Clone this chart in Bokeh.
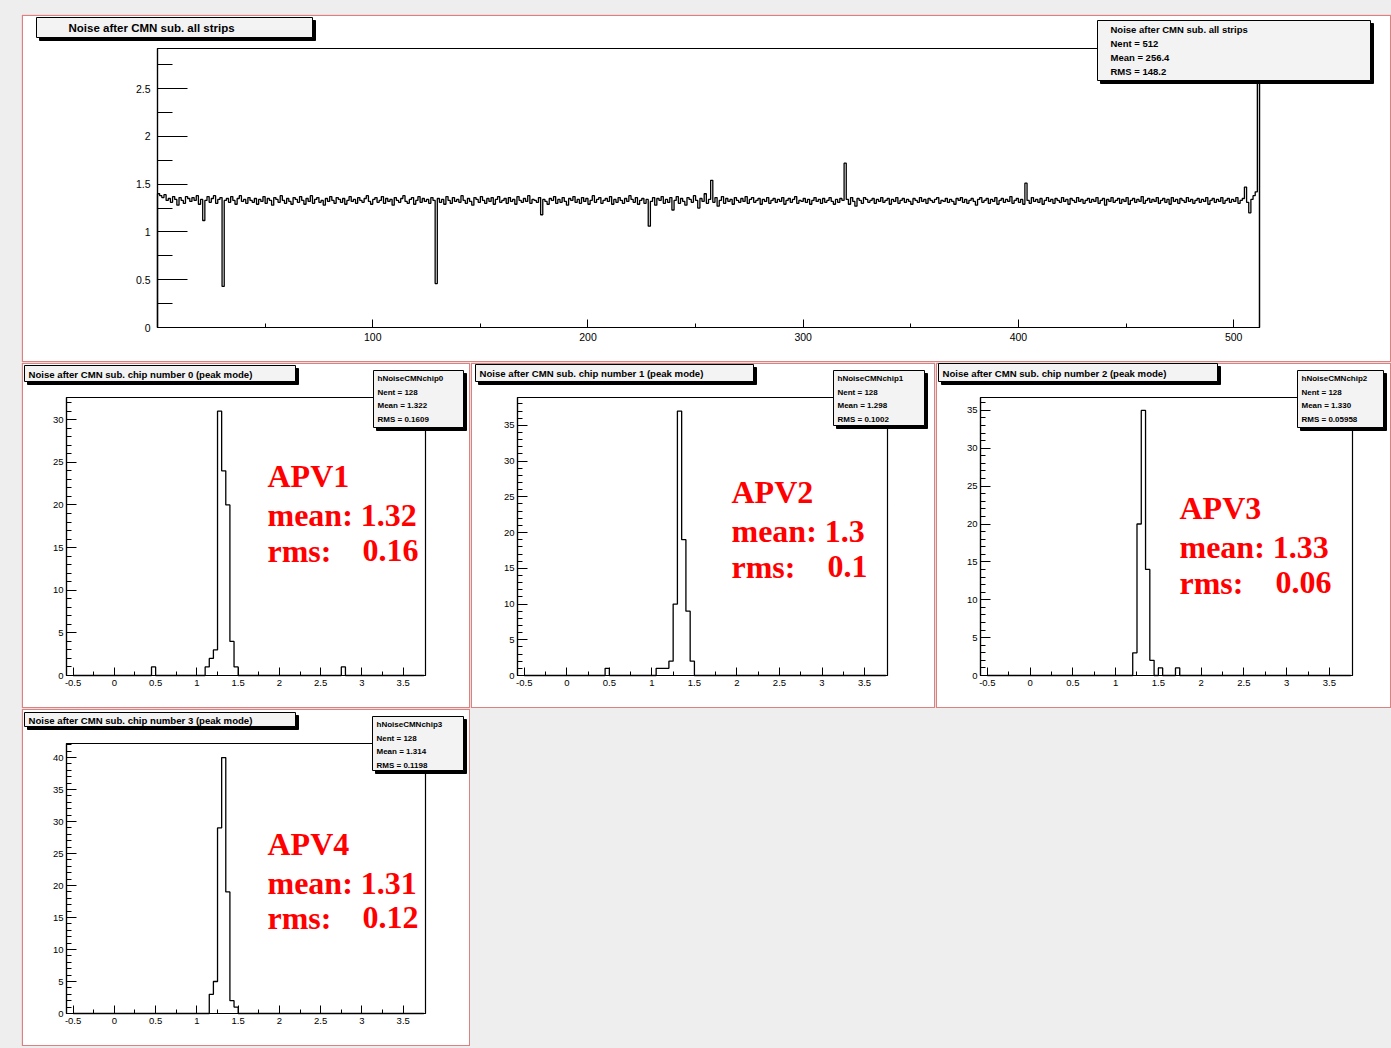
from bokeh.plotting import figure
from bokeh.layouts import column, row
from bokeh.models import Spacer, FixedTicker, BoxAnnotation, Label, Range1d
from bokeh.embed import file_html
from bokeh.resources import INLINE

# ---------------- data ----------------
strip_noise = [
    1.40, 1.38, 1.36, 1.39, 1.33, 1.35, 1.31, 1.37, 1.34, 1.28, 1.36, 1.33, 1.30, 1.37, 1.35, 1.32,
    1.36, 1.33, 1.38, 1.29, 1.34, 1.12, 1.33, 1.37, 1.31, 1.35, 1.38, 1.30, 1.34, 1.36, 0.43, 1.33,
    1.35, 1.31, 1.37, 1.33, 1.29, 1.35, 1.38, 1.32, 1.34, 1.30, 1.36, 1.33, 1.31, 1.35, 1.29, 1.34,
    1.32, 1.37, 1.30, 1.35, 1.33, 1.28, 1.36, 1.34, 1.31, 1.38, 1.33, 1.30, 1.35, 1.32, 1.29, 1.36,
    1.34, 1.31, 1.37, 1.33, 1.29, 1.35, 1.32, 1.38, 1.30, 1.34, 1.36, 1.31, 1.33, 1.28, 1.35, 1.32,
    1.37, 1.33, 1.30, 1.36, 1.34, 1.31, 1.35, 1.29, 1.33, 1.37, 1.32, 1.34, 1.30, 1.36, 1.33, 1.31,
    1.35, 1.38, 1.32, 1.29, 1.34, 1.36, 1.31, 1.33, 1.37, 1.30, 1.35, 1.32, 1.34, 1.28, 1.36, 1.33,
    1.31, 1.35, 1.38, 1.32, 1.30, 1.34, 1.36, 1.29, 1.33, 1.37, 1.31, 1.35, 1.32, 1.34, 1.30, 1.36,
    1.33, 0.46, 1.35, 1.31, 1.34, 1.29, 1.37, 1.33, 1.30, 1.36, 1.32, 1.34, 1.31, 1.38, 1.33, 1.30,
    1.35, 1.32, 1.28, 1.36, 1.34, 1.31, 1.37, 1.33, 1.30, 1.35, 1.32, 1.36, 1.29, 1.34, 1.37, 1.31,
    1.33, 1.35, 1.30, 1.36, 1.32, 1.34, 1.29, 1.37, 1.33, 1.31, 1.35, 1.32, 1.38, 1.30, 1.34, 1.33,
    1.31, 1.36, 1.18, 1.34, 1.32, 1.29, 1.35, 1.33, 1.37, 1.30, 1.34, 1.31, 1.36, 1.32, 1.28, 1.35,
    1.33, 1.37, 1.31, 1.34, 1.30, 1.36, 1.32, 1.35, 1.29, 1.33, 1.38, 1.31, 1.34, 1.36, 1.30, 1.33,
    1.35, 1.32, 1.37, 1.29, 1.34, 1.31, 1.36, 1.33, 1.30, 1.35, 1.32, 1.38, 1.34, 1.31, 1.36, 1.29,
    1.33, 1.35, 1.30, 1.34, 1.06, 1.32, 1.36, 1.28, 1.35, 1.33, 1.37, 1.30, 1.34, 1.31, 1.36, 1.23,
    1.33, 1.37, 1.30, 1.35, 1.32, 1.28, 1.36, 1.34, 1.31, 1.38, 1.33, 1.25, 1.35, 1.32, 1.40, 1.30,
    1.34, 1.54, 1.31, 1.36, 1.27, 1.33, 1.37, 1.30, 1.35, 1.32, 1.34, 1.29, 1.36, 1.33, 1.31, 1.35,
    1.32, 1.37, 1.30, 1.34, 1.36, 1.31, 1.33, 1.35, 1.29, 1.34, 1.32, 1.36, 1.30, 1.33, 1.35, 1.31,
    1.34, 1.32, 1.36, 1.29, 1.33, 1.35, 1.31, 1.34, 1.37, 1.30, 1.33, 1.32, 1.35, 1.31, 1.34, 1.29,
    1.33, 1.36, 1.32, 1.34, 1.30, 1.35, 1.31, 1.33, 1.36, 1.32, 1.29, 1.34, 1.31, 1.35, 1.33, 1.72,
    1.34, 1.29, 1.36, 1.32, 1.27, 1.35, 1.33, 1.30, 1.36, 1.34, 1.31, 1.33, 1.35, 1.30, 1.34, 1.32,
    1.36, 1.31, 1.33, 1.35, 1.29, 1.34, 1.32, 1.36, 1.30, 1.33, 1.35, 1.31, 1.34, 1.32, 1.29, 1.35,
    1.33, 1.31, 1.36, 1.32, 1.34, 1.30, 1.35, 1.33, 1.31, 1.34, 1.36, 1.30, 1.33, 1.32, 1.35, 1.31,
    1.34, 1.32, 1.29, 1.35, 1.33, 1.36, 1.31, 1.34, 1.30, 1.33, 1.35, 1.32, 1.28, 1.34, 1.36, 1.31,
    1.33, 1.35, 1.30, 1.34, 1.32, 1.36, 1.29, 1.33, 1.35, 1.31, 1.34, 1.32, 1.37, 1.30, 1.33, 1.35,
    1.31, 1.34, 1.29, 1.51, 1.33, 1.30, 1.36, 1.32, 1.34, 1.31, 1.35, 1.29, 1.33, 1.36, 1.32, 1.34,
    1.30, 1.35, 1.33, 1.31, 1.36, 1.32, 1.34, 1.29, 1.35, 1.33, 1.31, 1.36, 1.32, 1.34, 1.30, 1.33,
    1.35, 1.31, 1.34, 1.32, 1.36, 1.30, 1.33, 1.35, 1.28, 1.34, 1.32, 1.36, 1.31, 1.33, 1.35, 1.30,
    1.34, 1.32, 1.36, 1.29, 1.33, 1.35, 1.31, 1.34, 1.32, 1.37, 1.30, 1.33, 1.35, 1.31, 1.34, 1.32,
    1.36, 1.30, 1.33, 1.35, 1.31, 1.34, 1.29, 1.36, 1.32, 1.34, 1.30, 1.35, 1.33, 1.31, 1.36, 1.32,
    1.34, 1.30, 1.33, 1.35, 1.31, 1.34, 1.32, 1.36, 1.29, 1.33, 1.35, 1.31, 1.34, 1.32, 1.36, 1.30,
    1.33, 1.35, 1.31, 1.34, 1.32, 1.36, 1.30, 1.33, 1.35, 1.47, 1.31, 1.20, 1.34, 1.38, 1.42, 2.78,
]
strip_range = [0, 512]
noise_range = [0, 2.92]
strip_ticks = [100, 200, 300, 400, 500]
strip_minor = [50, 150, 250, 350, 450]
noise_ticks = [0, 0.5, 1, 1.5, 2, 2.5]
noise_minor = [0.25, 0.75, 1.25, 1.75, 2.25, 2.75]

hist_lo = -0.5
hist_hi = 3.75
hist_bin_w = 0.05
hist_x_range = [-0.58, 3.77]
hist_x_ticks = [-0.5, 0, 0.5, 1, 1.5, 2, 2.5, 3, 3.5]
hist_x_minor = [-0.25, 0.25, 0.75, 1.25, 1.75, 2.25, 2.75, 3.25]

apv1_bins = [0.45, 1.10, 1.15, 1.20, 1.25, 1.30, 1.35, 1.40, 1.45, 2.75]
apv1_counts = [1, 1, 2, 3, 31, 24, 20, 4, 1, 1]
apv2_bins = [0.45, 1.05, 1.10, 1.15, 1.20, 1.25, 1.30, 1.35, 1.40, 1.45]
apv2_counts = [1, 1, 1, 1, 2, 10, 37, 19, 9, 2]
apv3_bins = [1.20, 1.25, 1.30, 1.35, 1.40, 1.50, 1.70]
apv3_counts = [3, 20, 35, 14, 2, 1, 1]
apv4_bins = [1.15, 1.20, 1.25, 1.30, 1.35, 1.40, 1.45]
apv4_counts = [3, 5, 29, 40, 19, 2, 1]

apv_ymax = [32.6, 38.9, 36.7, 42.2]
apv_ytick_max = [30, 35, 35, 40]

apv_names = ["APV1", "APV2", "APV3", "APV4"]
apv_mean_text = ["1.32", "1.3", "1.33", "1.31"]
apv_rms_text = ["0.16", "0.1", "0.06", "0.12"]

top_title = "Noise after CMN sub. all strips"
top_stats = ["Noise after CMN sub. all strips", "Nent = 512", "Mean = 256.4", "RMS = 148.2"]
chip_titles = ["Noise after CMN sub. chip number %d (peak mode)" % i for i in range(4)]
chip_stats = [
    ["hNoiseCMNchip0", "Nent = 128", "Mean = 1.322", "RMS = 0.1609"],
    ["hNoiseCMNchip1", "Nent = 128", "Mean = 1.298", "RMS = 0.1002"],
    ["hNoiseCMNchip2", "Nent = 128", "Mean = 1.330", "RMS = 0.05958"],
    ["hNoiseCMNchip3", "Nent = 128", "Mean = 1.314", "RMS = 0.1198"],
]

# ---------------- helpers ----------------
FONT = "Liberation Sans"
PAD_BORDER = "#d98282"
BOX_FILL = "#f3f3f3"
CANVAS_BG = "#eeeeee"


def make_pad(w, h, L, R, T, B, xr, yr):
    """Figure whose frame is the whole pad; the ROOT frame [L..R]x[T..B] (pixels)
    shows the data window xr x yr."""
    a, b = xr
    y0, y1 = yr
    kx = (R - L) / (b - a)
    ky = (B - T) / (y1 - y0)
    p = figure(width=w, height=h,
               x_range=Range1d(a - L / kx, b + (w - R) / kx),
               y_range=Range1d(y0 - (h - B) / ky, y1 + T / ky),
               output_backend="svg", toolbar_location=None,
               min_border=0, min_border_left=0, min_border_right=0,
               min_border_top=0, min_border_bottom=0,
               background_fill_color="white", border_fill_color="white",
               outline_line_color=None)
    p.title.visible = False
    p.xgrid.visible = False
    p.ygrid.visible = False
    p.xaxis.fixed_location = y0
    p.yaxis.fixed_location = a
    p.xaxis.bounds = (a, b)
    p.yaxis.bounds = (y0, y1)
    return p


def style_axes(p, xt, xm, yt, ym, x_in, x_min_in, y_in, y_min_in, fs, ystand, xstand):
    p.xaxis.ticker = FixedTicker(ticks=xt, minor_ticks=xm)
    p.yaxis.ticker = FixedTicker(ticks=yt, minor_ticks=ym)
    p.xaxis.major_label_overrides = {t: "%g" % t for t in xt}
    p.yaxis.major_label_overrides = {t: "%g" % t for t in yt}
    for ax, tin, tmin, st in ((p.xaxis, x_in, x_min_in, xstand), (p.yaxis, y_in, y_min_in, ystand)):
        ax.axis_line_color = "black"
        ax.axis_line_width = 1.2
        ax.major_tick_line_color = "black"
        ax.minor_tick_line_color = "black"
        ax.major_tick_in = tin
        ax.major_tick_out = 0
        ax.minor_tick_in = tmin
        ax.minor_tick_out = 0
        ax.major_label_text_font = FONT
        ax.major_label_text_font_size = fs
        ax.major_label_text_color = "black"
        ax.major_label_standoff = st


def frame_box(p, xr, yr):
    p.add_layout(BoxAnnotation(left=xr[0], right=xr[1], bottom=yr[0], top=yr[1],
                               fill_alpha=0.0, line_color="black", line_alpha=1.0,
                               line_width=1.2))


def cbox(p, l, t, r, b, fill=None, line="black", lw=1.0):
    p.add_layout(BoxAnnotation(left=l, right=r, top=t, bottom=b,
                               left_units="canvas", right_units="canvas",
                               top_units="canvas", bottom_units="canvas",
                               fill_color=fill if fill else "white",
                               fill_alpha=1.0 if fill else 0.0,
                               line_color=line, line_alpha=1.0, line_width=lw))


def ctext(p, x, y, txt, size, bold=True, font=FONT, color="black", baseline="middle"):
    p.add_layout(Label(x=x, y=y, x_units="canvas", y_units="canvas", text=txt,
                       text_font=font, text_font_size=size,
                       text_font_style="bold" if bold else "normal",
                       text_color=color, text_baseline=baseline, text_align="left"))


def shadow_box(p, l, t, r, b):
    cbox(p, l + 3, t + 3, r + 3, b + 3, fill="black", line="black")
    cbox(p, l, t, r, b, fill=BOX_FILL, line="black")


# ---------------- top pad: noise vs strip ----------------
TW, TH = 1370, 348
top = make_pad(TW, TH, 136, 1238, 34, 313, strip_range, noise_range)
style_axes(top, strip_ticks, strip_minor, noise_ticks, noise_minor, 8, 4, 30, 15, "10.5px", 7, 5)
edges = list(range(len(strip_noise) + 1))
top.step(x=[edges[0]] + edges, y=[0] + strip_noise + [0], mode="after",
         line_color="black", line_width=1.3)
frame_box(top, strip_range, noise_range)
cbox(top, 0.75, 0.75, TW - 0.75, TH - 0.75, line=PAD_BORDER, lw=1.5)
shadow_box(top, 15, 3, 291, 23)
ctext(top, 47, 13, top_title, "11.5px")
shadow_box(top, 1076, 6, 1349, 66)
for i, s in enumerate(top_stats):
    ctext(top, 1089, 15 + 14 * i, s, "9.5px")


# ---------------- chip pads ----------------
def build_hist(bins, counts):
    n = int(round((hist_hi - hist_lo) / hist_bin_w))
    full = [0] * n
    for b, c in zip(bins, counts):
        full[int(round((b - hist_lo) / hist_bin_w))] += c
    ed = [hist_lo + k * hist_bin_w for k in range(n + 1)]
    return [ed[0]] + ed, [0] + full + [0]


pad_specs = [
    # w, h, frame px (L, R, T, B), title box, stats box, red text x, red baselines, rms value x
    (449, 346, (45, 404, 35, 313), (3, 3, 274, 19), (352, 8, 442, 65), 246, (113, 152, 188), 341),
    (465, 346, (47, 417, 35, 313), (5, 2, 283, 19), (363, 8, 454, 63), 261, (129, 168, 204), 357),
    (456, 346, (45, 417, 35, 313), (3, 1, 282, 19), (362, 8, 448, 65), 244, (145, 184, 220), 340),
    (449, 338, (45, 404, 35, 305), (3, 4, 274, 18), (351, 8, 442, 62), 246, (135, 174, 209), 341),
]
apv_data = [(apv1_bins, apv1_counts), (apv2_bins, apv2_counts),
            (apv3_bins, apv3_counts), (apv4_bins, apv4_counts)]

pads = []
for k in range(4):
    w, h, (L, R, T, B), tb, sb, rx, rys, vx = pad_specs[k]
    yr = [0, apv_ymax[k]]
    p = make_pad(w, h, L, R, T, B, hist_x_range, yr)
    yt = list(range(0, apv_ytick_max[k] + 1, 5))
    ym = [v for v in range(0, int(apv_ymax[k]) + 1) if v % 5 != 0]
    style_axes(p, hist_x_ticks, hist_x_minor, yt, ym, 8, 4, 10, 5, "9.5px", 3, 4)
    xs, ys = build_hist(*apv_data[k])
    p.step(x=xs, y=ys, mode="after", line_color="black", line_width=1.3)
    frame_box(p, hist_x_range, yr)
    cbox(p, 0.75, 0.75, w - 0.75, h - 0.75, line=PAD_BORDER, lw=1.5)
    shadow_box(p, *tb)
    ctext(p, tb[0] + 4, (tb[1] + tb[3]) / 2 + 0.5, chip_titles[k], "9.6px")
    shadow_box(p, *sb)
    for i, s in enumerate(chip_stats[k]):
        ctext(p, sb[0] + 4, sb[1] + 8 + 13.5 * i, s, "8px")
    red = dict(font="Liberation Serif", color="#ff0000", baseline="alphabetic")
    ctext(p, rx, rys[0], apv_names[k], "32px", **red)
    ctext(p, rx, rys[1], "mean: " + apv_mean_text[k], "32px", **red)
    ctext(p, rx, rys[2], "rms:", "32px", **red)
    ctext(p, vx, rys[2], apv_rms_text[k], "32px", **red)
    pads.append(p)


def grey(w, h):
    return Spacer(width=w, height=h, styles={"background-color": CANVAS_BG})


layout = column(
    grey(1391, 14),
    row(grey(21, 348), top),
    row(grey(21, 346), pads[0], pads[1], pads[2]),
    row(grey(21, 338), pads[3], grey(921, 338)),
    grey(1391, 2),
    styles={"background-color": CANVAS_BG},
)

open("out.html", "w").write(file_html(layout, INLINE))
